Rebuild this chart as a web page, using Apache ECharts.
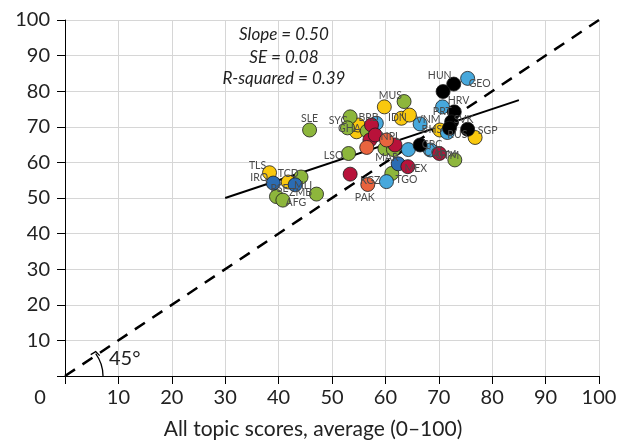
<!DOCTYPE html>
<html>
<head>
<meta charset="utf-8">
<script src="https://cdn.jsdelivr.net/npm/echarts@6/dist/echarts.min.js"></script>
<style>html,body{margin:0;padding:0;background:#fff;}#c{width:632px;height:445px;}</style>
</head>
<body>
<div id="c"></div>
<script>
// ---- data ----
const xTicks = [0,10,20,30,40,50,60,70,80,90,100];
const yellowCodes = ['TLS','TCD','MUS','IDN','','','','','BHS'];
const yellowX = [38.3,41.8,59.8,63.0,64.5,54.6,54.9,76.8,70.2];
const yellowY = [57.1,54.5,75.6,72.4,73.3,68.6,70.5,67.0,69.1];
const greenCodes = ['SLE','','PSE','AFG','ZMB','LSO','SYC','GHA','','','MAR','','','ARM'];
const greenX = [45.8,44.2,39.6,40.8,47.1,53.1,53.4,52.9,56.6,63.5,59.9,61.5,61.2,73.0];
const greenY = [69.1,55.9,50.4,49.4,51.1,62.5,72.8,69.7,68.8,77.1,63.9,63.6,56.9,60.7];
const lightBlueCodes = ['GEO','HRV','VNM','RUS','','COL','TGO',''];
const lightBlueX = [75.4,70.7,66.5,71.6,64.3,68.4,60.2,58.3];
const lightBlueY = [83.6,75.6,70.8,68.4,63.6,63.5,54.6,71.0];
const darkBlueCodes = ['IRQ','MLI',''];
const darkBlueX = [39.0,43.1,62.4];
const darkBlueY = [54.2,53.7,59.6];
const crimsonCodes = ['KGZ','MEX','BRB','','','','GTM'];
const crimsonX = [53.4,64.2,57.4,57.1,58.1,61.8,70.1];
const crimsonY = [56.7,58.8,70.5,66.3,67.7,64.9,62.5];
const orangeCodes = ['PAK','','NPL'];
const orangeX = [56.7,56.5,60.2];
const orangeY = [53.8,64.2,66.3];
const blackCodes = ['HUN','','PRT','SVK','','SGP','CRC'];
const blackX = [72.8,70.8,72.9,72.4,72.0,75.4,66.5];
const blackY = [82.0,79.9,74.2,71.4,69.6,69.3,64.9];
const fitX = [30, 85];
const fitY = [50, 77.5];
const diagX = [0, 100];
const diagY = [0, 100];
const statLines = ['Slope = 0.50', 'SE = 0.08', 'R-squared = 0.39'];

// ---- label placement (style) ----
const labelOffsets = {
  TLS:[-12,-7], IRQ:[-14,-5], TCD:[0,-8], PSE:[3,-8], MLI:[8,1], ZMB:[-16,-1], AFG:[13,2],
  SLE:[0,-11], SYC:[-12,4], GHA:[2,1], BRB:[-3,-7], LSO:[-15,2], KGZ:[20,6], PAK:[-3,13],
  TGO:[20,-2], MEX:[8,2], MAR:[2,9], NPL:[4,-3], CRC:[12,0], GTM:[8,2], COL:[4,3], ARM:[-10,-5],
  IDN:[-4,-1], VNM:[8,-4], MUS:[6,-11], HUN:[-14,-8], GEO:[12,5], HRV:[16,-6], PRT:[-12,0],
  SVK:[12,-2], BHS:[-8,0], RUS:[10,2], SGP:[20,1]
};
const FONT = 'Lato';

function mkSeries(codes, xs, ys, color) {
  return {
    type: 'scatter',
    symbolSize: 14,
    itemStyle: { color: color, borderColor: '#1a1a1a', borderWidth: 0.8, opacity: 1 },
    emphasis: { disabled: true },
    z: 5,
    data: xs.map((x, i) => {
      const c = codes[i];
      const item = { value: [x, ys[i]], name: c };
      if (c) {
        item.label = { show: true, formatter: c, position: 'inside', offset: labelOffsets[c] || [0, 0],
          color: '#4a4a4a', fontSize: 10.5, fontFamily: FONT };
      } else {
        item.label = { show: false };
      }
      return item;
    })
  };
}

const chart = echarts.init(document.getElementById('c'), null, { renderer: 'canvas' });
const option = {
  animation: false,
  backgroundColor: '#fff',
  grid: { left: 65, top: 20, right: 33, bottom: 69, containLabel: false },
  xAxis: {
    type: 'value', min: 0, max: 100, interval: 10,
    name: 'All topic scores, average (0\u2013100)', nameLocation: 'middle', nameGap: 43,
    nameTextStyle: { fontSize: 21, color: '#222', fontFamily: FONT, padding: [0, 38, 0, 0] },
    axisLine: { onZero: false, lineStyle: { color: '#000', width: 1 } },
    axisTick: { show: true, length: 8, lineStyle: { color: '#000' } },
    axisLabel: { fontSize: 20, color: '#222', fontFamily: FONT, margin: 12,
      formatter: v => (v === 0 ? '' : String(v)) },
    splitLine: { show: true, lineStyle: { color: '#d6d6d6', width: 1 } }
  },
  yAxis: {
    type: 'value', min: 0, max: 100, interval: 10,
    axisLine: { show: true, onZero: false, lineStyle: { color: '#000', width: 1 } },
    axisTick: { show: true, length: 8, lineStyle: { color: '#000' } },
    axisLabel: { fontSize: 20, color: '#222', fontFamily: FONT, margin: 15,
      formatter: v => (v === 0 ? '' : String(v)) },
    splitLine: { show: true, lineStyle: { color: '#d6d6d6', width: 1 } }
  },
  series: [
    { type: 'line', data: diagX.map((x, i) => [x, diagY[i]]), showSymbol: false, symbol: 'none',
      lineStyle: { color: '#000', width: 2.5, type: [12, 9] }, z: 3, silent: true },
    { type: 'line', data: fitX.map((x, i) => [x, fitY[i]]), showSymbol: false, symbol: 'none',
      lineStyle: { color: '#000', width: 2 }, z: 4, silent: true },
    mkSeries(yellowCodes, yellowX, yellowY, '#F9C80E'),
    mkSeries(greenCodes, greenX, greenY, '#8DB63C'),
    mkSeries(lightBlueCodes, lightBlueX, lightBlueY, '#47A8DC'),
    mkSeries(darkBlueCodes, darkBlueX, darkBlueY, '#2B6CB3'),
    mkSeries(crimsonCodes, crimsonX, crimsonY, '#B8123A'),
    mkSeries(orangeCodes, orangeX, orangeY, '#E9643E'),
    mkSeries(blackCodes, blackX, blackY, '#000000')
  ]
};
chart.setOption(option);

// ---- annotations positioned through the axes ----
const px = p => chart.convertToPixel({ xAxisIndex: 0, yAxisIndex: 0 }, p);
const o = px([0, 0]);
const statYs = [95.8, 89.6, 83.7];
const graphics = statLines.map((t, i) => {
  const p = px([41.0, statYs[i]]);
  return { type: 'text', x: p[0], y: p[1], z: 20,
    style: { text: t, font: 'italic 17px ' + FONT, fill: '#222', align: 'center', verticalAlign: 'middle' } };
});
const r = 38;
const a0 = -0.63;
graphics.push({ type: 'arc', z: 20,
  shape: { cx: o[0], cy: o[1], r: r, startAngle: a0, endAngle: 0, clockwise: true },
  style: { stroke: '#000', lineWidth: 1.3, fill: null } });
const ex = o[0] + r * Math.cos(a0), ey = o[1] + r * Math.sin(a0);
graphics.push({ type: 'polyline', z: 20,
  shape: { points: [[ex - 5, ey + 1], [ex, ey - 2], [ex + 4, ey + 2]] },
  style: { stroke: '#000', lineWidth: 1.3, fill: null } });
graphics.push({ type: 'text', x: o[0] + 44, y: o[1] - 17, z: 20,
  style: { text: '45\u00b0', font: '20px ' + FONT, fill: '#222', align: 'left', verticalAlign: 'middle' } });
graphics.push({ type: 'text', x: o[0] - 25, y: o[1] + 22, z: 20,
  style: { text: '0', font: '20px ' + FONT, fill: '#222', align: 'center', verticalAlign: 'middle' } });
chart.setOption({ graphic: graphics });
</script>
</body>
</html>
